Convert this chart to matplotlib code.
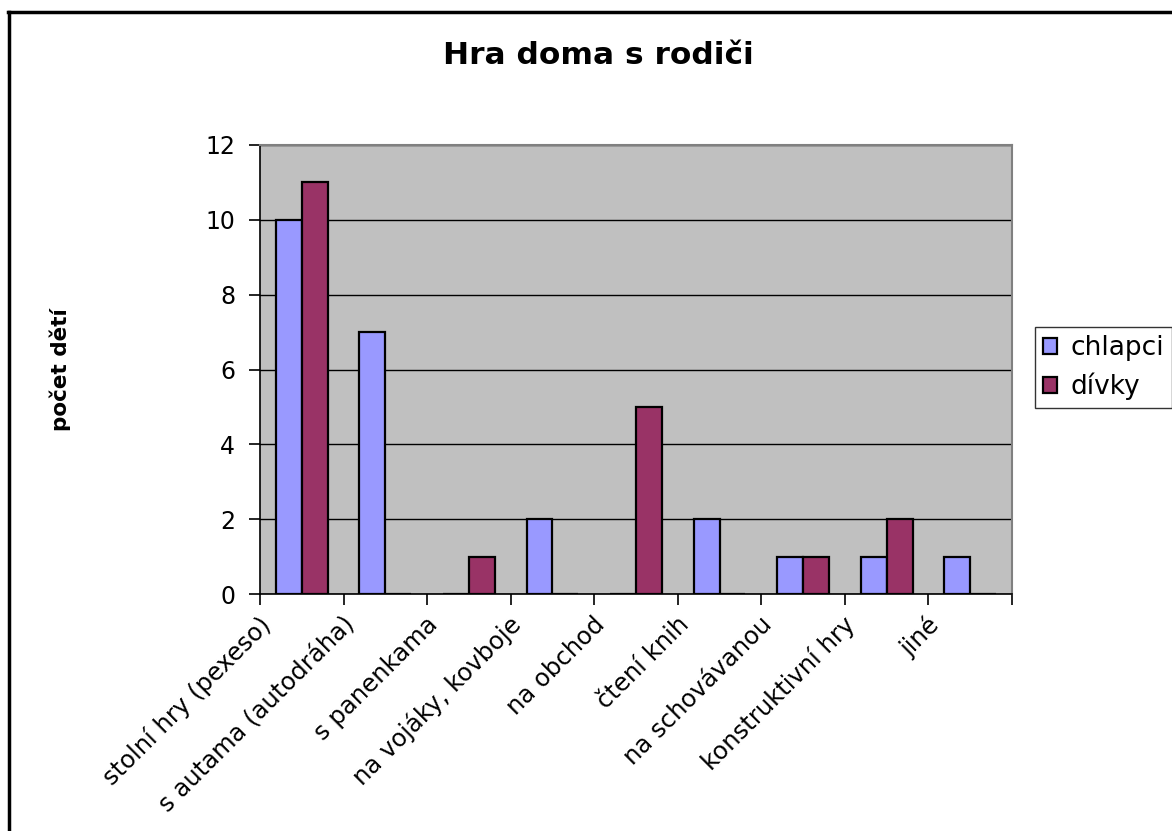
import numpy as np
import matplotlib.pyplot as plt
from matplotlib.lines import Line2D
from matplotlib.transforms import ScaledTranslation

plt.rcParams['font.family'] = ['DejaVu Sans']

kategorie = ['stolní hry (pexeso)', 's autama (autodráha)', 's panenkama',
             'na vojáky, kovboje', 'na obchod', 'čtení knih',
             'na schovávanou', 'konstruktivní hry', 'jiné']
chlapci = [10, 7, 0, 2, 0, 2, 1, 1, 1]
divky = [11, 0, 1, 0, 5, 0, 1, 2, 0]
y_ticks = [0, 2, 4, 6, 8, 10, 12]

W, H = 1172, 831
fig = plt.figure(figsize=(W / 100, H / 100), dpi=100)
ax = fig.add_axes([260 / W, 1 - 594 / H, (1012 - 260) / W, (594 - 145) / H])
ax.set_facecolor('#C0C0C0')

x = np.arange(len(kategorie))
w = 0.31
ax.bar(x - w / 2, chlapci, w, color='#9999FF', edgecolor='black', linewidth=1.6,
       label='chlapci', zorder=3)
ax.bar(x + w / 2, divky, w, color='#993366', edgecolor='black', linewidth=1.6,
       label='dívky', zorder=3)

ax.set_xlim(-0.5, len(kategorie) - 0.5)
ax.set_ylim(0, 12)
ax.set_yticks(y_ticks)
ax.tick_params(axis='y', labelsize=17, length=8, width=1.2, pad=10, direction='out')
ax.yaxis.grid(True, color='black', linewidth=1.0, zorder=0)
ax.set_axisbelow(True)

ax.set_xticks(x)
ax.set_xticklabels(kategorie, rotation=45, ha='right', va='top', fontsize=17.5)
ax.tick_params(axis='x', which='major', length=0, pad=13)
ax.set_xticks(np.arange(-0.5, len(kategorie)), minor=True)
ax.tick_params(axis='x', which='minor', length=8, width=1.2, direction='out')
# posun popisků doleva jako v Excelu
shift = ScaledTranslation(-26 / 100, 0, fig.dpi_scale_trans)
for lab in ax.get_xticklabels():
    lab.set_transform(lab.get_transform() + shift)

for s in ['top', 'right']:
    ax.spines[s].set_color('#808080')
    ax.spines[s].set_linewidth(1.5)
for s in ['left', 'bottom']:
    ax.spines[s].set_color('black')
    ax.spines[s].set_linewidth(1.2)

ax.set_ylabel('počet dětí', fontsize=15.5, fontweight='bold', labelpad=0)
ax.yaxis.set_label_coords(-189 / (1012 - 260), 0.5)

fig.text(598 / W, 1 - 55 / H, 'Hra doma s rodiči', fontsize=22.5, fontweight='bold',
         ha='center', va='center')

fig.legend(loc='upper left', bbox_to_anchor=(1035 / W, 1 - 327 / H),
           fontsize=19, frameon=True, fancybox=False, edgecolor='black',
           handlelength=0.55, handleheight=0.55, handletextpad=0.5,
           borderpad=0.3, labelspacing=0.45, borderaxespad=0)

fig.add_artist(Line2D([9.5 / W, 9.5 / W], [0, 1 - 11.5 / H], color='black', linewidth=2.5))
fig.add_artist(Line2D([8 / W, 1], [1 - 11.5 / H, 1 - 11.5 / H], color='black', linewidth=2.5))

fig.savefig('out.png', dpi=100)
